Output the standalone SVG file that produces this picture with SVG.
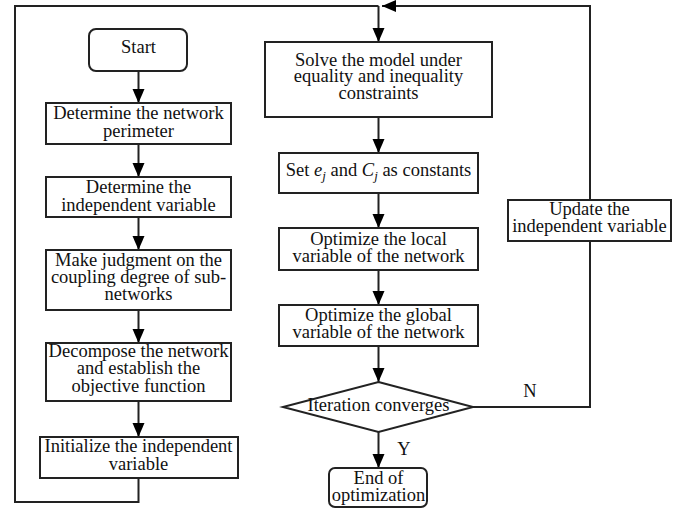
<svg xmlns="http://www.w3.org/2000/svg" width="681" height="508" viewBox="0 0 681 508">
<defs>
<marker id="ah" markerUnits="userSpaceOnUse" markerWidth="14" markerHeight="14" viewBox="0 0 14 14" refX="14" refY="7" orient="auto">
<path d="M0,1 L14,7 L0,13 Z" fill="#000"/>
</marker>
</defs>
<style>
.b{fill:#fff;stroke:#222;stroke-width:2}
.c{fill:none;stroke:#222;stroke-width:2}
text{font-family:"Liberation Serif","Times New Roman",serif;font-size:18.5px;fill:#111;text-anchor:middle}
</style>
<rect width="681" height="508" fill="#fff"/>
<g id="connectors">
<line class="c" x1="138.5" y1="71" x2="138.5" y2="103" marker-end="url(#ah)"/>
<line class="c" x1="138.5" y1="144" x2="138.5" y2="177" marker-end="url(#ah)"/>
<line class="c" x1="138.5" y1="217" x2="138.5" y2="250" marker-end="url(#ah)"/>
<line class="c" x1="138.5" y1="310" x2="138.5" y2="343" marker-end="url(#ah)"/>
<line class="c" x1="138.5" y1="401" x2="138.5" y2="437" marker-end="url(#ah)"/>
<polyline class="c" points="138.5,478 138.5,502 15,502 15,6 378.5,6"/>
<line class="c" x1="378.5" y1="6" x2="378.5" y2="42" marker-end="url(#ah)"/>
<line class="c" x1="378.5" y1="117" x2="378.5" y2="153" marker-end="url(#ah)"/>
<line class="c" x1="378.5" y1="193" x2="378.5" y2="228" marker-end="url(#ah)"/>
<line class="c" x1="378.5" y1="270" x2="378.5" y2="305" marker-end="url(#ah)"/>
<line class="c" x1="378.5" y1="346" x2="378.5" y2="382" marker-end="url(#ah)"/>
<line class="c" x1="378.5" y1="432" x2="378.5" y2="468" marker-end="url(#ah)"/>
<polyline class="c" points="473,407 590,407 590,6 382,6" marker-end="url(#ah)"/>
<text x="404" y="455">Y</text>
<text x="530" y="397">N</text>
</g>
<g id="start"><rect class="b" x="89" y="29" width="98" height="42" rx="7"/><text x="138.5" y="53">Start</text></g>
<g id="n1"><rect class="b" x="46" y="103" width="185" height="41"/><text x="138.5" y="119">Determine the network</text><text x="138.5" y="137">perimeter</text></g>
<g id="n2"><rect class="b" x="46" y="177" width="185" height="40"/><text x="138.5" y="193">Determine the</text><text x="138.5" y="211">independent variable</text></g>
<g id="n3"><rect class="b" x="46" y="250" width="185" height="60"/><text x="138.5" y="266">Make judgment on the</text><text x="138.5" y="283">coupling degree of sub-</text><text x="138.5" y="300">networks</text></g>
<g id="n4"><rect class="b" x="46" y="343" width="185" height="58"/><text x="138.5" y="357">Decompose the network</text><text x="138.5" y="374">and establish the</text><text x="138.5" y="392">objective function</text></g>
<g id="n5"><rect class="b" x="40" y="437" width="198" height="41"/><text x="138.5" y="452">Initialize the independent</text><text x="138.5" y="470">variable</text></g>
<g id="n6"><rect class="b" x="265" y="42" width="227" height="75"/><text x="378.5" y="66">Solve the model under</text><text x="378.5" y="82">equality and inequality</text><text x="378.5" y="99">constraints</text></g>
<g id="n7"><rect class="b" x="279" y="153" width="199" height="40"/><text x="378.5" y="176">Set <tspan font-style="italic">e</tspan><tspan font-style="italic" font-size="13" dy="4">j</tspan><tspan dy="-4"> and </tspan><tspan font-style="italic">C</tspan><tspan font-style="italic" font-size="13" dy="4">j</tspan><tspan dy="-4"> as constants</tspan></text></g>
<g id="n8"><rect class="b" x="279" y="228" width="199" height="42"/><text x="378.5" y="245">Optimize the local</text><text x="378.5" y="262">variable of the network</text></g>
<g id="n9"><rect class="b" x="279" y="305" width="199" height="41"/><text x="378.5" y="321">Optimize the global</text><text x="378.5" y="338">variable of the network</text></g>
<g id="d1"><polygon class="b" points="378.5,382 473,407 378.5,432 283,407"/><text x="378.5" y="411">Iteration converges</text></g>
<g id="end"><rect class="b" x="329" y="468" width="98" height="39" rx="6"/><text x="378.5" y="484">End of</text><text x="378.5" y="501">optimization</text></g>
<g id="upd"><rect class="b" x="508" y="200" width="163" height="41"/><text x="589.5" y="215">Update the</text><text x="589.5" y="232">independent variable</text></g>
</svg>
